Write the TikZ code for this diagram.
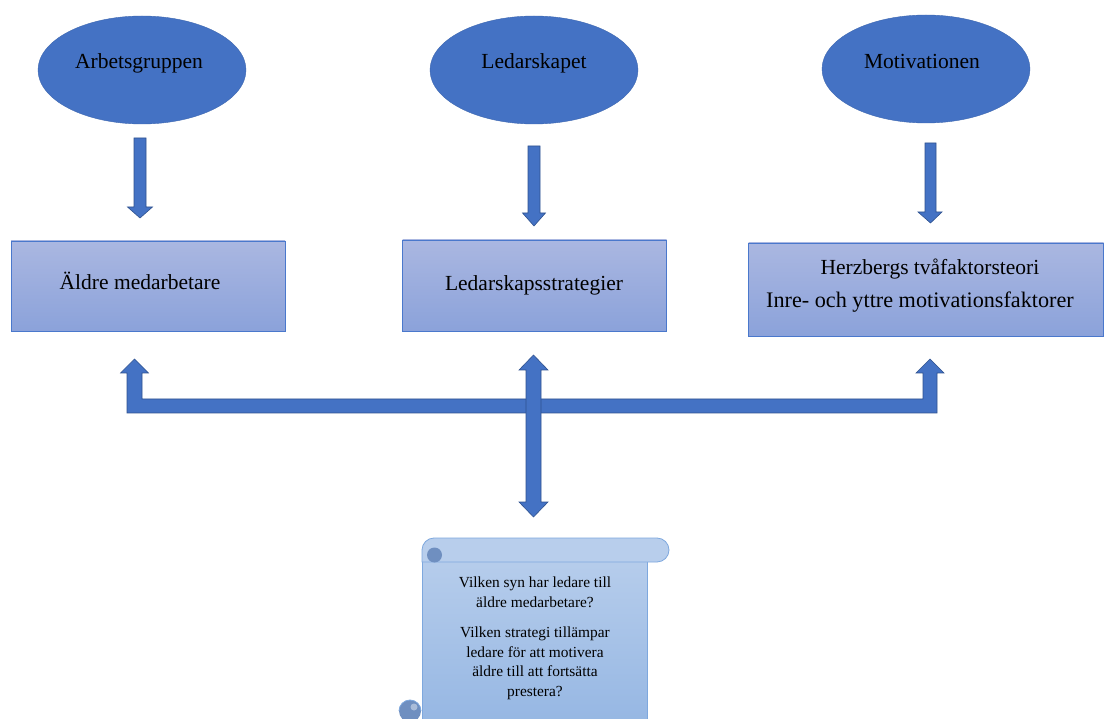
\documentclass[tikz,border=0pt]{standalone}
\usepackage{fontspec}
\setmainfont{Liberation Serif}
\usetikzlibrary{shapes.geometric}
\definecolor{obl}{HTML}{4472C4}
\definecolor{obd}{HTML}{2F528F}
\definecolor{boxtop}{HTML}{AAB7E1}
\definecolor{boxbot}{HTML}{8BA2DA}
\definecolor{boxline}{HTML}{4A78CC}
\definecolor{scrtop}{HTML}{B8CEEC}
\definecolor{scrbot}{HTML}{96B7E3}
\definecolor{scrline}{HTML}{7EA8DE}
\definecolor{curl}{HTML}{6F8FC0}
\tikzset{
  ell/.style={ellipse, fill=obl, draw=obl!90!black, line width=0.4pt, minimum width=208pt, minimum height=108pt, inner sep=0pt},
  elltext/.style={anchor=base, font=\fontsize{21.5}{24}\selectfont, inner sep=0pt},
  boxnode/.style={rectangle, draw=boxline, line width=0.8pt, top color=boxtop, bottom color=boxbot, inner sep=0pt},
  boxtext/.style={anchor=base, font=\fontsize{21.5}{24}\selectfont, inner sep=0pt},
  scrtext/.style={align=center, font=\fontsize{15.4}{19.5}\selectfont, inner sep=0pt},
  blockarrow/.style={fill=obl, draw=obd, line width=0.6pt, line join=miter},
  scrollline/.style={draw=scrline, line width=0.8pt}
}
\begin{document}
\begin{tikzpicture}[x=1pt,y=-1pt]
\useasboundingbox (0,0) rectangle (1104,719);
\clip (0,0) rectangle (1104,719);
\fill[white] (0,0) rectangle (1104,719);

% ellipses
\node[ell] (e1) at (142,70) {};
\node[ell] (e2) at (534,70) {};
\node[ell] (e3) at (926,69) {};
\node[elltext] (t1) at (139,69) {Arbetsgruppen};
\node[elltext] (t2) at (534,69) {Ledarskapet};
\node[elltext] (t3) at (922,69) {Motivationen};

% down arrows
\draw[blockarrow] (134,138) -- (146,138) -- (146,207) -- (152.5,207) -- (140,218) -- (127.5,207) -- (134,207) -- cycle;
\draw[blockarrow] (528,146) -- (540,146) -- (540,213) -- (545.5,213) -- (534,226) -- (522.5,213) -- (528,213) -- cycle;
\draw[blockarrow] (925,143) -- (936,143) -- (936,212) -- (942,212) -- (930.5,223) -- (918,212) -- (925,212) -- cycle;

% boxes
\node[boxnode, minimum width=274pt, minimum height=90pt] (b1) at (148,286) {};
\node[boxnode, minimum width=264pt, minimum height=91pt] (b2) at (534.5,285.5) {};
\node[boxnode, minimum width=355pt, minimum height=93pt] (b3) at (926,289.5) {};
\node[boxtext] (bt1) at (140,290) {Äldre medarbetare};
\node[boxtext] (bt2) at (534,291) {Ledarskapsstrategier};
\node[boxtext] (bt3a) at (930,275) {Herzbergs tvåfaktorsteori};
\node[boxtext, font=\fontsize{22.2}{24}\selectfont] (bt3b) at (920,308) {Inre- och yttre motivationsfaktorer};

% bent double-headed bar
\draw[blockarrow] (127,413) -- (937,413) -- (937,373) -- (944,373) -- (930,359) -- (916,373) -- (923,373) -- (923,399)
  -- (142,399) -- (142,373) -- (148.5,373) -- (134.5,359) -- (120.5,373) -- (127,373) -- cycle;

% vertical double arrow
\draw[blockarrow] (533.5,355) -- (548,370) -- (541,370) -- (541,502) -- (548,502) -- (533.5,517) -- (519,502) -- (526,502)
  -- (526,370) -- (519,370) -- cycle;

% scroll body
\shade[top color=scrtop, bottom color=scrbot] (422,550) rectangle (647,722);
\draw[scrollline] (422,550) -- (422,722);
\draw[scrollline] (647,562) -- (647,722);
% bottom curl
\fill[curl] (410,711) circle (11);
\fill[curl!60!white] (414,707) circle (3.5);
\draw[scrollline] (399,711) .. controls (399,704.9) and (403.9,700) .. (410,700) .. controls (416.1,700) and (421,704.9) .. (421,711);
% top roll
\path[fill=scrtop, scrollline] (422,562) -- (422,550) .. controls (422,543.4) and (427.4,538) .. (434,538) -- (657,538)
  .. controls (663.6,538) and (669,543.4) .. (669,550) .. controls (669,556.6) and (663.6,562) .. (657,562) -- cycle;
\fill[curl] (434.5,555) circle (7.5);

\node[scrtext] (q1) at (535,592.5) {Vilken syn har ledare till\\äldre medarbetare?};
\node[scrtext] (q2) at (535,663.5) {Vilken strategi tillämpar\\ledare för att motivera\\äldre till att fortsätta\\prestera?};
\end{tikzpicture}
\end{document}
